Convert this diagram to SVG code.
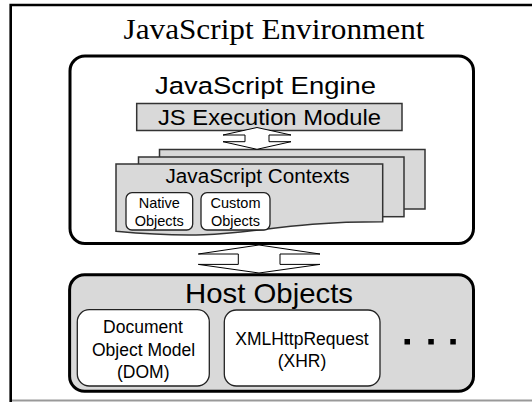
<svg xmlns="http://www.w3.org/2000/svg" width="532" height="402" viewBox="0 0 532 402">
  <style>
    .serif { font-family: "Liberation Serif", "Times New Roman", serif; fill: #000; }
    .sans { font-family: "Liberation Sans", Arial, sans-serif; fill: #000; }
    .mid { text-anchor: middle; }
    .sheet { fill: #d9d9d9; stroke: #333; stroke-width: 1.5; }
    .inner { fill: #fff; stroke: #222; stroke-width: 1.3; }
    .big { stroke: #000; stroke-width: 3; }
    .arrow { fill: #fff; stroke: #000; stroke-width: 1; stroke-linejoin: miter; }
  </style>
  <rect x="0" y="0" width="532" height="402" fill="#fff"/>

  <g id="environment">
    <path d="M10.7,402 V5 H532" fill="none" stroke="#000" stroke-width="2.6"/>
    <line x1="12" y1="400.5" x2="532" y2="400.5" stroke="#999" stroke-width="2"/>
    <text class="serif mid" x="274" y="38.5" font-size="28.5" textLength="301" lengthAdjust="spacingAndGlyphs">JavaScript Environment</text>
  </g>

  <g id="engine">
    <rect class="big" x="70" y="56" width="403.5" height="187.5" rx="15" fill="#fff"/>
    <text class="sans mid" x="265.5" y="94" font-size="24.5" textLength="221" lengthAdjust="spacingAndGlyphs">JavaScript Engine</text>
  </g>

  <g id="exec-module">
    <rect class="sheet" x="136.7" y="103.5" width="265.3" height="27"/>
    <text class="sans mid" x="269.5" y="125" font-size="22" textLength="223" lengthAdjust="spacingAndGlyphs">JS Execution Module</text>
  </g>

  <g id="contexts">
    <rect class="sheet" x="159.5" y="149.5" width="265.5" height="59.5"/>
    <rect class="sheet" x="138.5" y="157" width="265.5" height="59.7"/>
    <path class="sheet" d="M116,164 H382.7 V221.7 C249.3,221.7 249.3,243.7 116,231.2 Z"/>
    <text class="sans mid" x="257.5" y="183.3" font-size="20" textLength="184" lengthAdjust="spacingAndGlyphs">JavaScript Contexts</text>
  </g>

  <g id="native-objects">
    <rect class="inner" x="126" y="192.7" width="66.7" height="37.3" rx="6"/>
    <text class="sans mid" x="159.3" y="207.5" font-size="14.5">Native</text>
    <text class="sans mid" x="159.3" y="225.5" font-size="14.5">Objects</text>
  </g>

  <g id="custom-objects">
    <rect class="inner" x="201" y="192.7" width="69" height="37.3" rx="6"/>
    <text class="sans mid" x="235.5" y="207.5" font-size="14.5">Custom</text>
    <text class="sans mid" x="235.5" y="225.5" font-size="14.5">Objects</text>
  </g>

  <g id="host-objects">
    <rect class="big" x="69.6" y="274.7" width="403.9" height="116.6" rx="15" fill="#d9d9d9"/>
    <text class="sans mid" x="269" y="302.5" font-size="28.5" textLength="168" lengthAdjust="spacingAndGlyphs">Host Objects</text>
    <rect x="404.5" y="339" width="5.5" height="5.5" fill="#000"/>
    <rect x="428.3" y="339" width="5.5" height="5.5" fill="#000"/>
    <rect x="450.3" y="339" width="5.5" height="5.5" fill="#000"/>
  </g>

  <g id="dom">
    <rect class="inner" x="77.3" y="309.7" width="132" height="76.3" rx="12" stroke-width="1.5"/>
    <text class="sans mid" x="143" y="333" font-size="17.5">Document</text>
    <text class="sans mid" x="143.5" y="356" font-size="17.5">Object Model</text>
    <text class="sans mid" x="143.3" y="377.5" font-size="17.5">(DOM)</text>
  </g>

  <g id="xhr">
    <rect class="inner" x="224.3" y="310" width="155.7" height="76" rx="12" stroke-width="1.5"/>
    <text class="sans mid" x="302" y="344.5" font-size="17.5">XMLHttpRequest</text>
    <text class="sans mid" x="302" y="367" font-size="17.5">(XHR)</text>
  </g>

  <g id="connectors">
    <polygon class="arrow" points="257,127.5 291,135 269,135 269,141.7 291,141.7 257,149.3 223,141.7 245,141.7 245,135 223,135"/>
    <polygon class="arrow" points="259,245 320,254 280,254 280,264.4 320,264.4 259,273 198.3,264.4 238.3,264.4 238.3,254 198.3,254"/>
  </g>
</svg>
